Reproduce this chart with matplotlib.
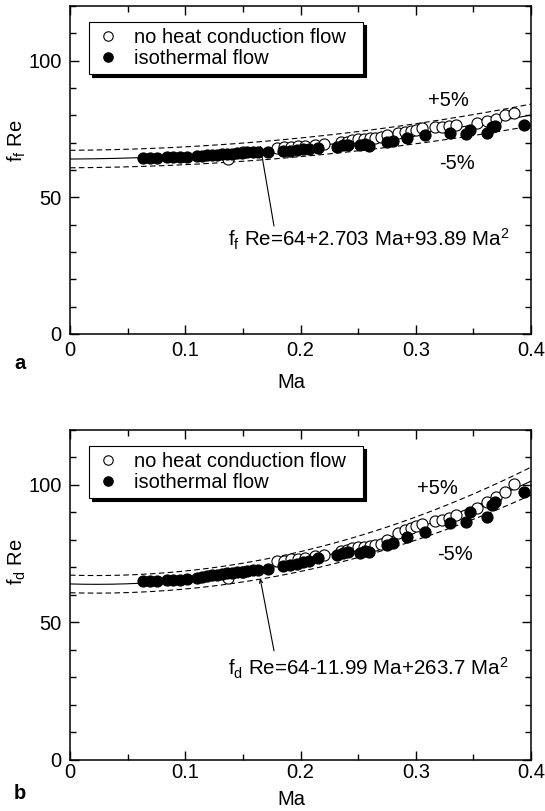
"""
Two panels: fRe vs Ma, no heat conduction flow vs isothermal flow, with fit curves and +/-5% bands.
Saves: out.png
"""

import numpy as np
import matplotlib
matplotlib.use('Agg')
import matplotlib.pyplot as plt
from matplotlib.ticker import MultipleLocator

matplotlib.rcParams['font.family'] = 'Liberation Sans'
matplotlib.rcParams['mathtext.fontset'] = 'custom'
matplotlib.rcParams['mathtext.rm'] = 'Liberation Sans'
matplotlib.rcParams['mathtext.it'] = 'Liberation Sans'

# ── Data ──
ma_iso = [0.0636, 0.0694, 0.0752, 0.0839, 0.0897, 0.0955, 0.1013, 0.110, 0.1143, 0.1186,
          0.123, 0.1273, 0.1317, 0.136, 0.1403, 0.1447, 0.149, 0.1534, 0.159, 0.1635,
          0.172, 0.185, 0.191, 0.197, 0.2025, 0.207, 0.2155, 0.2315, 0.237, 0.2416,
          0.2517, 0.256, 0.259, 0.275, 0.2806, 0.292, 0.308, 0.33, 0.344, 0.347,
          0.362, 0.366, 0.369, 0.3935]
ff_iso = [64.4, 64.4, 64.5, 64.6, 64.7, 64.8, 64.9, 65.2, 65.3, 65.4,
          65.5, 65.6, 65.8, 65.9, 66.0, 66.2, 66.3, 66.4, 66.5, 66.6,
          66.6, 66.9, 67.1, 67.3, 67.6, 67.8, 68.2, 68.5, 69.0, 69.3,
          69.0, 69.4, 68.9, 70.4, 70.7, 71.6, 72.8, 73.4, 73.0, 74.8,
          73.4, 75.7, 76.2, 76.3]
fd_iso = [65.0, 65.0, 65.1, 65.3, 65.4, 65.6, 65.8, 66.3, 66.6, 66.8,
          67.1, 67.3, 67.6, 67.8, 68.1, 68.3, 68.5, 68.8, 68.9, 69.1,
          69.4, 70.6, 71.0, 71.4, 71.9, 72.3, 73.4, 74.6, 75.1, 75.7,
          75.4, 76.1, 75.6, 78.2, 79.0, 81.2, 83.0, 86.0, 86.6, 90.2,
          88.4, 92.7, 93.9, 97.5]

ma_nhc = [0.137, 0.15, 0.18, 0.186, 0.192, 0.198, 0.204, 0.213, 0.22, 0.235,
          0.24, 0.245, 0.25, 0.255, 0.26, 0.265, 0.27, 0.275, 0.285, 0.291,
          0.296, 0.30, 0.305, 0.317, 0.323, 0.329, 0.335, 0.353, 0.362, 0.37,
          0.377, 0.385]
ff_nhc = [64.2, 66.4, 67.9, 68.3, 68.5, 68.6, 68.8, 69.3, 69.5, 70.2,
          70.4, 71.0, 71.3, 71.5, 71.6, 71.8, 72.0, 72.8, 73.6, 74.0,
          74.2, 74.8, 75.2, 75.6, 75.8, 76.0, 76.5, 77.1, 78.0, 78.5,
          80.1, 81.0]
fd_nhc = [66.3, 68.2, 72.2, 72.5, 72.9, 73.2, 73.5, 74.3, 74.7, 76.0,
          76.4, 77.0, 77.3, 77.6, 77.9, 78.2, 78.5, 80.0, 82.5, 83.6,
          84.2, 85.0, 85.8, 86.8, 87.3, 87.8, 89.0, 91.5, 93.9, 95.7,
          97.5, 100.5]

# fit coefficients: fRe = 64 + b*Ma + c*Ma^2
coef_f = (64, 2.703, 93.89)
coef_d = (64, -11.99, 263.7)

ma_fit = np.linspace(0, 0.4, 200)

panels = [
    dict(rect=[0.1284, 0.5882, 0.846, 0.4044], coef=coef_f, y_iso=ff_iso, y_nhc=ff_nhc,
         ylabel=r'$\mathregular{f_f}$ Re', label_y=0.59, xlabel_y=-0.118,
         eq=r'$\mathregular{f_f}$ Re=64+2.703 Ma+93.89 Ma$^\mathregular{2}$',
         eq_xy=(0.137, 34.6), tip=(0.165, 69.0), tail=(0.177, 39.5),
         plus=(0.328, 85.6), minus=(0.336, 62.5), tag='a', tag_y=0.5524, pad=5),
    dict(rect=[0.1284, 0.0629, 0.846, 0.407], coef=coef_d, y_iso=fd_iso, y_nhc=fd_nhc,
         ylabel=r'$\mathregular{f_d}$ Re', label_y=0.60, xlabel_y=-0.092,
         eq=r'$\mathregular{f_d}$ Re=64-11.99 Ma+263.7 Ma$^\mathregular{2}$',
         eq_xy=(0.137, 33.2), tip=(0.165, 66.0), tail=(0.177, 39.7),
         plus=(0.319, 98.6), minus=(0.334, 74.7), tag='b', tag_y=0.022, pad=2),
]

fig = plt.figure(figsize=(5.45, 8.11), dpi=100)
FS = 14.5

for p in panels:
    ax = fig.add_axes(p['rect'])
    a0, a1, a2 = p['coef']
    fit = a0 + a1 * ma_fit + a2 * ma_fit ** 2
    ax.plot(ma_fit, fit, color='black', lw=0.8)
    ax.plot(ma_fit, fit * 1.05, color='black', lw=0.8, dashes=(5, 3))
    ax.plot(ma_fit, fit * 0.95, color='black', lw=0.8, dashes=(5, 3))

    ax.plot(ma_nhc, p['y_nhc'], 'o', ms=8, mfc='white', mec='black', mew=0.8,
            label='no heat conduction flow  ', zorder=3)
    ax.plot(ma_iso, p['y_iso'], 'o', ms=8, mfc='black', mec='black', mew=0.8,
            label='isothermal flow', zorder=4)

    ax.annotate('', xy=p['tip'], xytext=p['tail'],
                arrowprops=dict(arrowstyle='->', lw=0.8, color='black', mutation_scale=6,
                                shrinkA=0, shrinkB=0))
    ax.text(*p['eq_xy'], p['eq'], fontsize=14.8, ha='left', va='center')
    ax.text(*p['plus'], '+5%', fontsize=FS, ha='center', va='center')
    ax.text(*p['minus'], '-5%', fontsize=FS, ha='center', va='center')

    ax.set_xlim(0, 0.4)
    ax.set_ylim(0, 120)
    ax.xaxis.set_minor_locator(MultipleLocator(0.05))
    ax.yaxis.set_major_locator(MultipleLocator(50))
    ax.yaxis.set_minor_locator(MultipleLocator(10))
    ax.set_xticks([0, 0.1, 0.2, 0.3, 0.4], ['0', '0.1', '0.2', '0.3', '0.4'])
    ax.tick_params(which='both', direction='in', top=True, right=True, width=1.0,
                   labelsize=FS)
    ax.tick_params(axis='x', pad=p['pad'])
    ax.tick_params(axis='y', pad=6)
    ax.tick_params(which='major', length=6.5)
    ax.tick_params(which='minor', length=4.5)
    for s in ax.spines.values():
        s.set_linewidth(1.1)

    ax.set_xlabel('Ma', fontsize=FS)
    ax.xaxis.set_label_coords(0.48, p['xlabel_y'])
    ax.set_ylabel(p['ylabel'], fontsize=FS)
    ax.yaxis.set_label_coords(-0.092, p['label_y'])

    leg = ax.legend(loc='upper left', bbox_to_anchor=(0.041, 0.951), borderaxespad=0,
                    fontsize=FS, frameon=True, fancybox=False, handletextpad=0.65,
                    handlelength=1.3, borderpad=0.3, labelspacing=0.1,
                    shadow={'color': 'black', 'alpha': 1.0}, markerscale=0.85)
    leg.get_frame().set_edgecolor('black')
    leg.get_frame().set_linewidth(0.8)

    fig.text(0.037, p['tag_y'], p['tag'], fontsize=FS, fontweight='bold', ha='center', va='center')

fig.savefig('out.png', dpi=100)
